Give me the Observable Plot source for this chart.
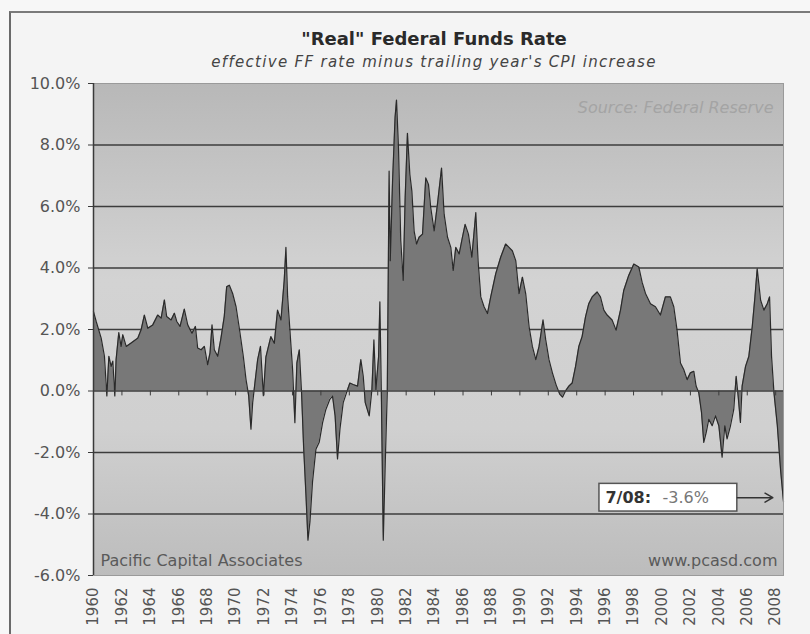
<!DOCTYPE html>
<html>
<head>
<meta charset="utf-8">
<script src="https://cdn.jsdelivr.net/npm/d3@7"></script>
<script src="https://cdn.jsdelivr.net/npm/@observablehq/plot@0.6"></script>
<style>
  html, body { margin: 0; padding: 0; background: #f7f7f7; }
  #wrap { position: relative; width: 810px; height: 634px; overflow: hidden; background: #f7f7f7; font-family: "DejaVu Sans", Verdana, sans-serif; }
  #border { position: absolute; left: 9px; top: 11px; width: 820px; height: 640px; border-left: 2px solid #6a6a6a; border-top: 2px solid #7a7a7a; background: #f4f4f4; }
  #title { position: absolute; left: 134px; width: 600px; top: 28px; text-align: center; font-weight: bold; font-size: 18px; color: #2a2a2a; }
  #subtitle { position: absolute; left: 34px; width: 800px; top: 53px; text-align: center; font-style: italic; font-size: 15px; letter-spacing: 1.3px; color: #444; }
  #chart { position: absolute; left: 0; top: 0; }
</style>
</head>
<body>
<div id="wrap">
  <div id="border"></div>
  <div id="chart"></div>
  <div id="title">"Real" Federal Funds Rate</div>
  <div id="subtitle">effective FF rate minus trailing year's CPI increase</div>
</div>
<script>
// ---- Data (decimal year, real FF rate in %) ----
const dates = [
  1960.0, 1960.19, 1960.54, 1960.77, 1960.94, 1961.08, 1961.24, 1961.36, 1961.5, 1961.59,
  1961.78, 1961.94, 1962.06, 1962.3, 1962.65, 1963.12, 1963.35, 1963.58, 1963.82, 1964.17,
  1964.52, 1964.76, 1964.99, 1965.15, 1965.46, 1965.69, 1965.86, 1966.09, 1966.39, 1966.63,
  1966.93, 1967.17, 1967.33, 1967.57, 1967.8, 1968.03, 1968.2, 1968.34, 1968.5, 1968.74,
  1968.97, 1969.2, 1969.37, 1969.56, 1969.79, 1970.03, 1970.26, 1970.54, 1970.73, 1970.92,
  1971.08, 1971.2, 1971.36, 1971.55, 1971.75, 1971.95, 1972.13, 1972.48, 1972.72, 1972.95,
  1973.19, 1973.42, 1973.54, 1973.66, 1973.82, 1974.01, 1974.17, 1974.31, 1974.48, 1974.64,
  1974.78, 1974.95, 1975.09, 1975.23, 1975.41, 1975.65, 1975.88, 1976.12, 1976.35, 1976.63,
  1976.82, 1977.0, 1977.17, 1977.34, 1977.57, 1977.8, 1978.04, 1978.27, 1978.58, 1978.81,
  1978.98, 1979.12, 1979.4, 1979.59, 1979.73, 1979.87, 1980.06, 1980.15, 1980.25, 1980.39,
  1980.53, 1980.67, 1980.8, 1980.88, 1981.04, 1981.22, 1981.32, 1981.46, 1981.62, 1981.79,
  1981.93, 1982.09, 1982.26, 1982.4, 1982.56, 1982.73, 1982.91, 1983.15, 1983.38, 1983.57,
  1983.73, 1983.97, 1984.2, 1984.49, 1984.67, 1984.91, 1985.14, 1985.31, 1985.49, 1985.73,
  1985.96, 1986.15, 1986.38, 1986.62, 1986.9, 1987.06, 1987.25, 1987.48, 1987.72, 1987.95,
  1988.3, 1988.65, 1989.0, 1989.24, 1989.47, 1989.71, 1989.94, 1990.18, 1990.41, 1990.65,
  1990.88, 1991.12, 1991.35, 1991.63, 1991.82, 1992.05, 1992.29, 1992.55, 1992.8, 1993.0,
  1993.21, 1993.45, 1993.68, 1993.92, 1994.15, 1994.38, 1994.62, 1994.85, 1995.09, 1995.44,
  1995.67, 1995.91, 1996.14, 1996.49, 1996.77, 1997.08, 1997.31, 1997.66, 1998.02, 1998.37,
  1998.6, 1998.84, 1999.19, 1999.54, 1999.89, 2000.24, 2000.59, 2000.83, 2001.06, 2001.3,
  2001.53, 2001.77, 2002.0, 2002.24, 2002.4, 2002.59, 2002.78, 2002.94, 2003.11, 2003.29,
  2003.53, 2003.76, 2004.0, 2004.23, 2004.42, 2004.58, 2004.82, 2005.05, 2005.22, 2005.36,
  2005.52, 2005.64, 2005.88, 2006.11, 2006.35, 2006.54, 2006.7, 2006.94, 2007.17, 2007.41,
  2007.57, 2007.71, 2007.88, 2008.11, 2008.35, 2008.55
];
const rate = [
  2.58, 2.26, 1.72, 1.13, -0.16, 1.13, 0.8, 0.97, -0.16, 1.02,
  1.9, 1.45, 1.83, 1.45, 1.56, 1.72, 1.99, 2.47, 2.04, 2.15,
  2.47, 2.37, 2.96, 2.42, 2.31, 2.53, 2.26, 2.1, 2.66, 2.15,
  1.88, 2.1, 1.4, 1.34, 1.45, 0.86, 1.24, 2.15, 1.34, 1.13,
  1.72, 2.42, 3.39, 3.44, 3.17, 2.74, 2.04, 1.13, 0.38, -0.16,
  -1.24, -0.38, 0.27, 1.02, 1.45, -0.15, 1.1, 1.77, 1.55, 2.63,
  2.31, 3.6, 4.67, 3.06, 1.98, 0.69, -1.03, 0.91, 1.34, -0.06,
  -1.77, -3.39, -4.85, -4.25, -2.96, -1.89, -1.67, -1.03, -0.6, -0.27,
  -0.17, -0.81, -2.21, -1.24, -0.38, -0.06, 0.26, 0.21, 0.16, 1.02,
  0.48, -0.38, -0.81, 0.05, 1.66, 0.05, 1.12, 2.9, 0.05, -4.85,
  -2.31, -0.06, 7.15, 4.24, 6.8, 8.9, 9.46, 7.9, 4.89, 3.6,
  6.29, 8.38, 7.04, 6.5, 5.2, 4.78, 5.0, 5.1, 6.93, 6.72,
  5.96, 5.21, 6.07, 7.25, 5.75, 5.0, 4.67, 3.92, 4.67, 4.46,
  5.0, 5.42, 5.1, 4.35, 5.8, 4.24, 3.06, 2.74, 2.52, 3.06,
  3.81, 4.35, 4.78, 4.67, 4.56, 4.24, 3.17, 3.7, 3.17, 2.09,
  1.45, 1.02, 1.45, 2.31, 1.66, 1.02, 0.59, 0.2, -0.1, -0.2,
  0.0, 0.16, 0.26, 0.8, 1.45, 1.77, 2.41, 2.84, 3.06, 3.22,
  3.06, 2.63, 2.47, 2.31, 1.98, 2.63, 3.27, 3.76, 4.13, 4.03,
  3.54, 3.17, 2.84, 2.74, 2.47, 3.06, 3.06, 2.74, 1.98, 0.91,
  0.7, 0.37, 0.59, 0.64, 0.16, -0.06, -0.7, -1.67, -1.35, -0.92,
  -1.13, -0.81, -1.13, -2.15, -1.13, -1.56, -1.13, -0.6, 0.48, -0.17,
  -1.02, 0.16, 0.8, 1.12, 2.09, 3.06, 3.97, 2.95, 2.63, 2.84,
  3.06, 1.12, -0.06, -1.1, -2.6, -3.6
];
const yTicks = [-6, -4, -2, 0, 2, 4, 6, 8, 10];
const gridValues = [-4, -2, 2, 4, 6, 8];
const xTicks = d3.range(1960, 2009, 2);
const sourceText = "Source: Federal Reserve";
const leftCredit = "Pacific Capital Associates";
const rightCredit = "www.pcasd.com";
const noteDate = "7/08:";
const noteValue = "-3.6%";
const noteBox = {x1: 1995.6, x2: 2005.3, y1: -3.02, y2: -3.92};
const noteArrow = {x1: 2005.3, x2: 2007.8, y: -3.47};

const data = dates.map((t, i) => ({t, v: rate[i]}));

const gradientDefs = () => {
  const g = d3.create("svg:g");
  const lg = g.append("defs").append("linearGradient")
    .attr("id", "plotBg").attr("x1", 0).attr("y1", 0).attr("x2", 0).attr("y2", 1);
  lg.append("stop").attr("offset", "0%").attr("stop-color", "#b8b8b8");
  lg.append("stop").attr("offset", "40%").attr("stop-color", "#d3d3d3");
  lg.append("stop").attr("offset", "70%").attr("stop-color", "#d0d0d0");
  lg.append("stop").attr("offset", "100%").attr("stop-color", "#bcbcbc");
  return g.node();
};

const chart = Plot.plot({
  width: 810,
  height: 634,
  marginLeft: 93,
  marginRight: 27,
  marginTop: 83,
  marginBottom: 59,
  style: {background: "transparent", fontFamily: "DejaVu Sans, Verdana, sans-serif", color: "#555"},
  x: {domain: [1960, 2008.55]},
  y: {domain: [-6, 10]},
  marks: [
    gradientDefs,
    Plot.frame({fill: "url(#plotBg)", stroke: null}),
    Plot.ruleY(gridValues, {stroke: "#3c3c3c", strokeWidth: 1.5}),
    Plot.areaY(data, {x: "t", y: "v", fill: "#787878", curve: "linear"}),
    Plot.lineY(data, {x: "t", y: "v", stroke: "#2a2a2a", strokeWidth: 1.2}),
    Plot.ruleY([0], {stroke: "#3c3c3c", strokeWidth: 1.5}),
    Plot.ruleX(xTicks, {y1: 0, y2: -0.16, stroke: "#3c3c3c", strokeWidth: 1}),
    Plot.frame({stroke: "#9a9a9a", strokeWidth: 1}),
    Plot.ruleX([1960], {stroke: "#3a3a3a", strokeWidth: 1.5}),
    Plot.axisY({ticks: yTicks, tickFormat: d => d.toFixed(1) + "%", tickSize: 5, tickPadding: 8,
      fontSize: 16, letterSpacing: 2, fill: "#555", stroke: "#3a3a3a"}),
    Plot.axisX({ticks: xTicks, tickFormat: "d", tickRotate: -90, tickSize: 0, tickPadding: 12,
      fontSize: 15, letterSpacing: 1.3, fill: "#555"}),
    Plot.text([sourceText], {frameAnchor: "top-right", dx: -10, dy: 18, fontStyle: "italic",
      fontSize: 16, letterSpacing: 2.6, fill: "#a4a4a4", textAnchor: "end"}),
    Plot.text([leftCredit], {frameAnchor: "bottom-left", dx: 7, dy: -10, fontSize: 16,
      letterSpacing: 2.5, fill: "#5a5a5a", textAnchor: "start"}),
    Plot.text([rightCredit], {frameAnchor: "bottom-right", dx: -6, dy: -10, fontSize: 16,
      letterSpacing: 3.5, fill: "#5a5a5a", textAnchor: "end"}),
    Plot.rect([noteBox], {x1: "x1", x2: "x2", y1: "y1", y2: "y2", fill: "#ffffff", stroke: "#555", strokeWidth: 1.5}),
    Plot.arrow([noteArrow], {x1: "x1", x2: "x2", y1: "y", y2: "y", stroke: "#333", strokeWidth: 1.5, headLength: 9}),
    Plot.text([noteDate], {x: noteBox.x1, y: noteArrow.y, dx: 6, textAnchor: "start", fontWeight: "bold",
      fontSize: 16, letterSpacing: 1.2, fill: "#333"}),
    Plot.text([noteValue], {x: noteBox.x1, y: noteArrow.y, dx: 63, textAnchor: "start",
      fontSize: 16, letterSpacing: 4.5, fill: "#777"})
  ]
});
document.getElementById("chart").appendChild(chart);
</script>
</body>
</html>
